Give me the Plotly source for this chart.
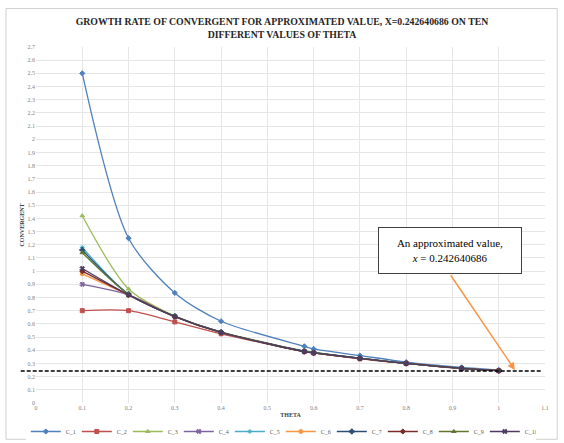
import plotly.graph_objects as go

theta = [0.1, 0.2, 0.3, 0.4, 0.58, 0.6, 0.7, 0.8, 0.92, 1.0]
names = ["C_1", "C_2", "C_3", "C_4", "C_5", "C_6", "C_7", "C_8", "C_9", "C_10"]
C_1 = [2.50, 1.25, 0.835, 0.62, 0.43, 0.41, 0.36, 0.31, 0.27, 0.25]
C_2 = [0.70, 0.70, 0.615, 0.525, 0.39, 0.38, 0.335, 0.30, 0.26, 0.245]
C_3 = [1.42, 0.865, 0.66, 0.54, 0.395, 0.385, 0.34, 0.30, 0.264, 0.245]
C_4 = [0.90, 0.82, 0.655, 0.535, 0.39, 0.38, 0.338, 0.30, 0.262, 0.245]
C_5 = [1.18, 0.825, 0.658, 0.537, 0.392, 0.382, 0.34, 0.30, 0.263, 0.245]
C_6 = [0.98, 0.82, 0.655, 0.535, 0.39, 0.38, 0.338, 0.30, 0.262, 0.245]
C_7 = [1.16, 0.825, 0.658, 0.537, 0.392, 0.382, 0.34, 0.30, 0.263, 0.245]
C_8 = [1.00, 0.82, 0.655, 0.535, 0.39, 0.38, 0.338, 0.30, 0.262, 0.245]
C_9 = [1.14, 0.825, 0.657, 0.536, 0.391, 0.381, 0.339, 0.30, 0.263, 0.245]
C_10 = [1.02, 0.82, 0.655, 0.535, 0.39, 0.38, 0.338, 0.30, 0.262, 0.245]
series = [C_1, C_2, C_3, C_4, C_5, C_6, C_7, C_8, C_9, C_10]

approx_value = 0.242640686

colors = ["#4F81BD", "#C0504D", "#9BBB59", "#8064A2", "#4BACC6",
          "#F79646", "#2C4D75", "#772C2A", "#5F7530", "#4D3B62"]
symbols = ["diamond", "square", "triangle-up", "x", "asterisk-open",
           "circle", "cross", "diamond", "triangle-up", "x"]

serif = "Liberation Serif, Times New Roman, serif"

fig = go.Figure()
for n, ys, c, s in zip(names, series, colors, symbols):
    fig.add_trace(go.Scatter(
        x=theta, y=ys, name=n, mode="lines+markers",
        line=dict(color=c, width=1.3, shape="spline", smoothing=0.8),
        marker=dict(symbol=s, size=4, color=c, line=dict(color=c, width=1)),
    ))

# dashed reference line at approximated value
fig.add_shape(type="line", xref="paper", yref="y", x0=-0.03, x1=0.995,
              y0=approx_value, y1=approx_value,
              line=dict(color="black", width=1.5, dash="4px,2px"))

# chart border
fig.add_shape(type="rect", xref="paper", yref="paper",
              x0=-0.059, x1=1.024, y0=-0.102, y1=1.108,
              line=dict(color="#D0D0D0", width=1))

# arrow
fig.add_annotation(x=1.035, y=0.25, ax=0.894, ay=0.98, xref="x", yref="y",
                   axref="x", ayref="y", text="", showarrow=True,
                   arrowhead=2, arrowsize=1, arrowwidth=1.5, arrowcolor="#F79646")
# text box
fig.add_annotation(x=0.894, y=1.158, xref="x", yref="y", showarrow=False,
                   text="An approximated value,<br><i>x</i> = 0.242640686",
                   font=dict(family=serif, size=11, color="black"),
                   bgcolor="white", bordercolor="#404040", borderwidth=1,
                   width=140, height=43, align="center")

fig.update_layout(
    width=564, height=443,
    margin=dict(l=36, r=19, t=47, b=40, autoexpand=False),
    paper_bgcolor="white", plot_bgcolor="white",
    title=dict(text="<b>GROWTH RATE OF CONVERGENT FOR APPROXIMATED VALUE, X=0.242640686 ON TEN<br>DIFFERENT VALUES OF THETA</b>",
               x=0.5, xanchor="center", y=0.944, yanchor="top",
               font=dict(family=serif, size=9.8, color="#262626")),
    showlegend=True,
    legend=dict(orientation="h", x=-0.02, xanchor="left", y=-0.08, yanchor="middle",
                font=dict(family=serif, size=6, color="#595959"),
                itemwidth=30, entrywidth=6, tracegroupgap=0),
    font=dict(family=serif),
)
fig.update_xaxes(range=[0, 1.1], dtick=0.1, tick0=0, showgrid=True, gridcolor="#E6E6E6",
                 zeroline=False, showline=False, ticks="", automargin=False,
                 tickfont=dict(family=serif, size=6, color="#7F7F7F"),
                 title=dict(text="<b>THETA</b>", font=dict(family=serif, size=6, color="#404040"),
                            standoff=2))
fig.update_yaxes(range=[0, 2.7], dtick=0.1, tick0=0, showgrid=True, gridcolor="#E6E6E6",
                 zeroline=False, showline=False, ticks="", automargin=False,
                 tickfont=dict(family=serif, size=6, color="#7F7F7F"),
                 title=dict(text="<b>CONVERGENT</b>", font=dict(family=serif, size=6, color="#404040"),
                            standoff=2))

fig.write_html("out.html", config={"displayModeBar": False},
               post_script="document.body.style.margin='0px';")
